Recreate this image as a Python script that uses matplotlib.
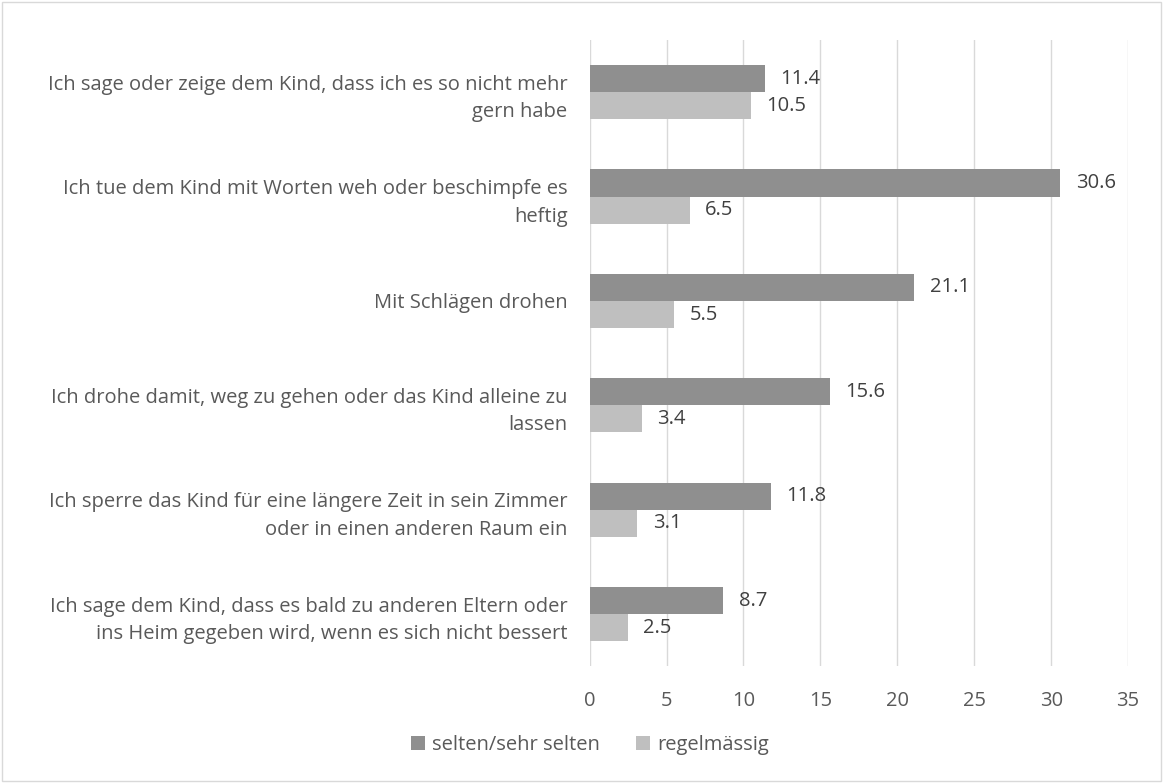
import matplotlib.pyplot as plt
import numpy as np

categories = [
    "Ich sage oder zeige dem Kind, dass ich es so nicht mehr\ngern habe",
    "Ich tue dem Kind mit Worten weh oder beschimpfe es\nheftig",
    "Mit Schlägen drohen",
    "Ich drohe damit, weg zu gehen oder das Kind alleine zu\nlassen",
    "Ich sperre das Kind für eine längere Zeit in sein Zimmer\noder in einen anderen Raum ein",
    "Ich sage dem Kind, dass es bald zu anderen Eltern oder\nins Heim gegeben wird, wenn es sich nicht bessert",
]
selten = [11.4, 30.6, 21.1, 15.6, 11.8, 8.7]
regel = [10.5, 6.5, 5.5, 3.4, 3.1, 2.5]
series_names = ["selten/sehr selten", "regelmässig"]
xticks = [0, 5, 10, 15, 20, 25, 30, 35]

plt.rcParams['font.family'] = ['Open Sans', 'DejaVu Sans']
txt = '#595959'
fs = 14.5

fig = plt.figure(figsize=(11.63, 7.83), dpi=100)
ax = fig.add_axes([0.507, 0.149, 0.463, 0.800])

y = np.arange(len(categories))
h = 0.26
b1 = ax.barh(y - h / 2, selten, height=h, color='#8f8f8f', label=series_names[0])
b2 = ax.barh(y + h / 2, regel, height=h, color='#bfbfbf', label=series_names[1])
for bars, vals in ((b1, selten), (b2, regel)):
    for bar, v in zip(bars, vals):
        ax.text(v + 1.0, bar.get_y() + bar.get_height() / 2, f"{v:.1f}",
                va='center', ha='left', fontsize=fs, color='#404040')

ax.set_ylim(len(categories) - 0.5, -0.5)
ax.set_xlim(0, 35)
ax.set_xticks(xticks)
ax.set_yticks(y)
ax.set_yticklabels(categories, fontsize=fs, color=txt, ha='right', linespacing=1.5)
ax.tick_params(axis='both', length=0, labelsize=fs, labelcolor=txt)
ax.tick_params(axis='y', pad=16)
ax.tick_params(axis='x', pad=18)
for lab in ax.get_yticklabels():
    lab.set_multialignment('right')
ax.grid(axis='x', color='#d9d9d9', linewidth=1)
ax.set_axisbelow(True)
for s in ax.spines.values():
    s.set_visible(False)

fig.legend(handles=[b1, b2], labels=series_names, loc='center', bbox_to_anchor=(0.507, 0.048),
           ncol=2, frameon=False, fontsize=fs, labelcolor=txt, handlelength=0.7,
           handleheight=0.7, handletextpad=0.35, columnspacing=1.8)

fig.patches.append(plt.Rectangle((0.002, 0.002), 0.996, 0.996, transform=fig.transFigure,
                                 fill=False, edgecolor='#d9d9d9', linewidth=1))

fig.savefig('out.png', dpi=100)
